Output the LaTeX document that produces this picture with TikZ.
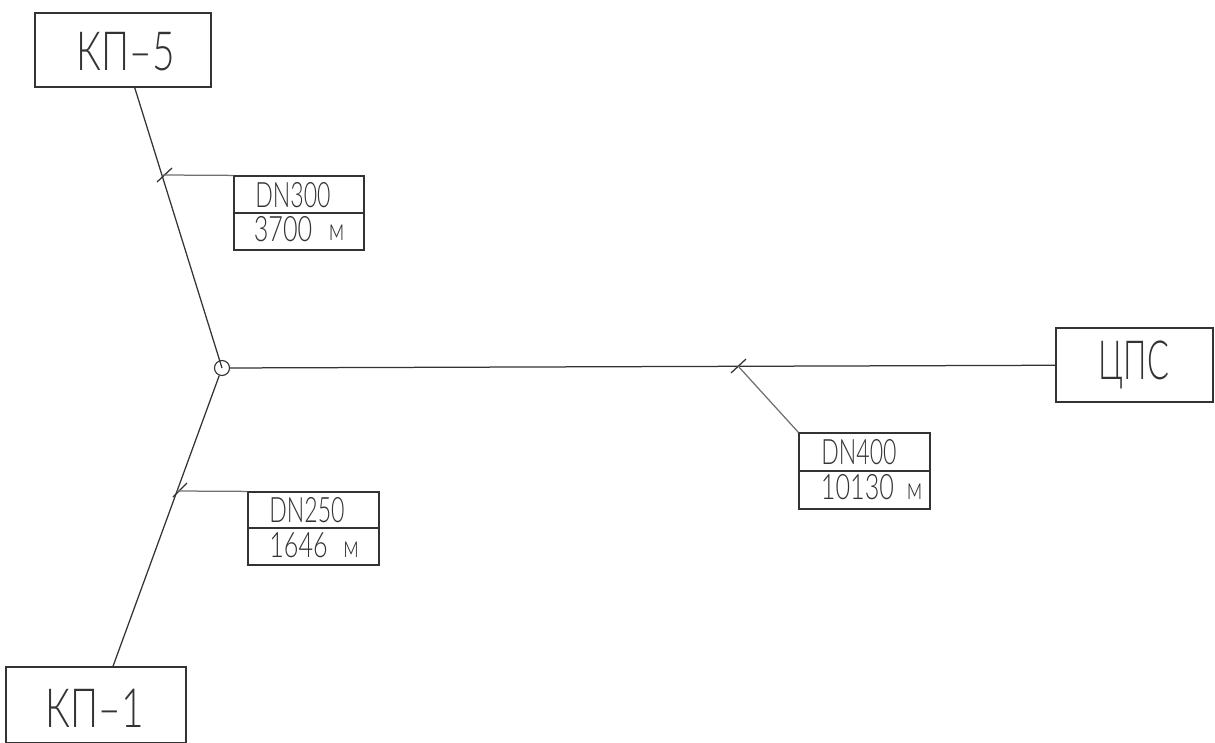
\documentclass[tikz,border=0pt]{standalone}
\usepackage{fontspec}
\setmainfont{Lato}[UprightFont=* Light]
\newfontfamily\bigf{Lato}[UprightFont=* Light,FakeStretch=0.72]
\newfontfamily\cpsf{Lato}[UprightFont=* Light,FakeStretch=0.6]
\newfontfamily\smf{Lato}[UprightFont=* Light,FakeStretch=0.72]
\newfontfamily\dnf{Lato}[UprightFont=* Light,FakeStretch=0.66]
\definecolor{ink}{gray}{0.2}
\tikzset{
  x=1pt,y=-1pt,
  wire/.style={draw=ink,line width=1.25pt},
  leader/.style={draw=ink!70,line width=1.25pt},
  station/.style={draw=ink,line width=1.4pt,rectangle,inner sep=0pt},
  cell/.style={draw=ink,line width=1.2pt,rectangle,inner sep=0pt,minimum width=130pt},
  bigtxt/.style={text=ink,inner sep=0pt,font=\bigf\fontsize{54}{54}\selectfont},
  cpstxt/.style={text=ink,inner sep=0pt,font=\cpsf\fontsize{54}{54}\selectfont},
  numtxt/.style={text=ink,inner sep=0pt,font=\smf\fontsize{35}{35}\selectfont},
  dntxt/.style={text=ink,inner sep=0pt,font=\dnf\fontsize{35}{35}\selectfont},
  unittxt/.style={text=ink,inner sep=0pt,font=\smf\fontsize{31}{31}\selectfont},
}
\begin{document}
\begin{tikzpicture}
\useasboundingbox (0,0) rectangle (1215,742);
% stations
\node[station,minimum width=176pt,minimum height=74pt] (kp5) at (123,50) {};
\node[station,minimum width=180pt,minimum height=76pt] (kp1) at (96,705) {};
\node[station,minimum width=157pt,minimum height=74pt] (cps) at (1134.5,365) {};
\node[bigtxt] (kp5t) at (126,52) {КП–5};
\node[bigtxt] (kp1t) at (95,708) {КП–1};
\node[cpstxt] (cpst) at (1134,365) {ЦПС};
% hub
\node[circle,draw=ink,line width=1.1pt,minimum size=15pt,inner sep=0pt] (hub) at (222,368) {};
% connectors
\draw[wire] (hub.center) -- (kp5);
\draw[wire] (hub.250) -- ([xshift=17pt]kp1.north);
\draw[wire] (hub) -- (cps);
% label cells
\node[cell,minimum height=37pt] (a1) at (299,194.5) {};
\node[cell,minimum height=37pt] (a2) at (299,231.5) {};
\node[cell,minimum width=131pt,minimum height=36pt] (b1) at (313.5,510) {};
\node[cell,minimum width=131pt,minimum height=37pt] (b2) at (313.5,546.5) {};
\node[cell,minimum width=131pt,minimum height=38pt] (c1) at (864.5,452) {};
\node[cell,minimum width=131pt,minimum height=38pt] (c2) at (864.5,490) {};
% ticks and leaders
\coordinate (t1a) at (157,182); \coordinate (t1b) at (172,168); \coordinate (t1) at (163,175);
\coordinate (t2a) at (173,497); \coordinate (t2b) at (187,483); \coordinate (t2) at (177,491);
\coordinate (t3a) at (731,373); \coordinate (t3b) at (746,359); \coordinate (t3) at (738,366);
\draw[wire] (t1a) -- (t1b);
\draw[wire] (t2a) -- (t2b);
\draw[wire] (t3a) -- (t3b);
\draw[leader] (t1) -- (a1.north west);
\draw[leader] (t2) -- (b1.north west);
\draw[leader] (t3) -- (c1.north west);
% label texts
\node[dntxt] (a1t) at (293,195) {DN300};
\node[numtxt] (a2t) at (283,229) {3700};
\node[unittxt] (a2u) at (336.5,233) {м};
\node[dntxt] (b1t) at (307,510) {DN250};
\node[numtxt] (b2t) at (298.5,545) {1646};
\node[unittxt] (b2u) at (351,550) {м};
\node[dntxt] (c1t) at (859,452.5) {DN400};
\node[numtxt] (c2t) at (857.5,487.5) {10130};
\node[unittxt] (c2u) at (914.5,492) {м};
\end{tikzpicture}
\end{document}
